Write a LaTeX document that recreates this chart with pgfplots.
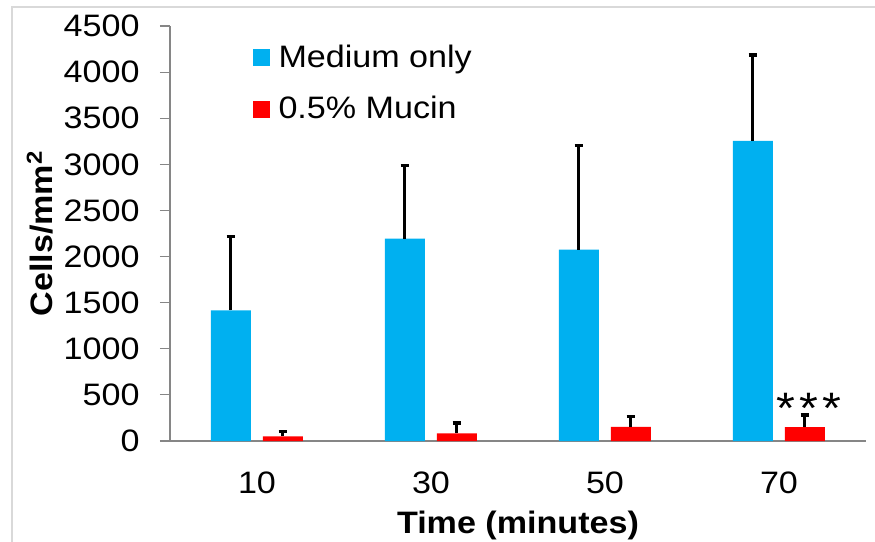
\documentclass[border=0pt]{standalone}
\usepackage{fontspec}
\setmainfont{Liberation Sans}[FakeStretch=1.1]
\usepackage{pgfplots}
\pgfplotsset{compat=1.18}
\usepackage{pgfplotstable}
\definecolor{cblue}{HTML}{00B0F0}
\definecolor{cred}{HTML}{FF0000}
\definecolor{axgray}{HTML}{868686}
\definecolor{bordergray}{HTML}{D9D9D9}

\pgfplotstableread{
x y e
0 1416 799
1 2194 790
2 2075 1128
3 3254 931
}\medium
\pgfplotstableread{
x y e
0 51 50
1 83 112
2 152 116
3 150 132
}\mucin

\begin{document}
\begin{tikzpicture}
\useasboundingbox (-85pt,-50.5pt) rectangle (352.5pt,220.5pt);
\draw[bordergray, line width=0.6pt] (-79pt,-80pt) rectangle (400pt,217pt);
\begin{axis}[
  scale only axis,
  width=348pt, height=207.5pt,
  xmin=-0.5, xmax=3.5, ymin=0, ymax=4500,
  axis lines*=left,
  axis line style={axgray, line width=0.6pt},
  every tick/.style={axgray, line width=0.6pt},
  tick align=outside,
  ytick={0,500,...,4500},
  major tick length=5pt,
  xtick={0,1,2,3},
  xticklabels={10,30,50,70},
  x tick style={draw=none},
  extra x ticks={-0.5,0.5,1.5,2.5,3.5},
  extra x tick labels={},
  extra x tick style={major tick length=5.5pt, tick style={axgray, line width=0.6pt}},
  font=\fontsize{15.5pt}{18pt}\selectfont,
  /pgf/number format/assume math mode=true,
  /pgf/number format/1000 sep={},
  yticklabel style={anchor=east, inner sep=0pt, xshift=-10pt},
  xticklabel style={anchor=base, inner sep=0pt, yshift=-21pt},
  ylabel={\bfseries Cells/mm\textsuperscript{2}},
  ylabel style={at={(axis description cs:-0.187,0.5)}, anchor=center},
  xlabel={\bfseries Time (minutes)},
  xlabel style={at={(axis description cs:0.5,0)}, anchor=base, yshift=-46pt},
  ybar=6pt, bar width=20pt,
  legend style={draw=none, fill=none, at={(axis description cs:0.118,0.965)}, anchor=north west,
    font=\fontsize{15.5pt}{18pt}\selectfont, row sep=9pt, inner sep=0pt,
    /tikz/every even column/.append style={column sep=0pt}},
  legend cell align=left,
  legend image code/.code={\fill[#1] (0pt,-4.25pt) rectangle (8.5pt,4.25pt); \path (11pt,0pt);},
  error bars/error bar style={black, line width=1.5pt},
  error bars/error mark options={black, rotate=90, mark size=2.2pt, line width=1.6pt},
]
\addplot[fill=cblue, draw=none, error bars/.cd, y dir=plus, y explicit]
  table[x=x, y=y, y error=e] {\medium};
\addlegendentry{Medium only}
\addplot[fill=cred, draw=none, error bars/.cd, y dir=plus, y explicit]
  table[x=x, y=y, y error=e] {\mucin};
\addlegendentry{0.5\% Mucin}
\node[anchor=base, inner sep=0pt, font=\fontsize{22pt}{22pt}\selectfont] at (axis cs:3.172,195) {*\kern2pt*\kern2pt*};
\end{axis}
\end{tikzpicture}
\end{document}
